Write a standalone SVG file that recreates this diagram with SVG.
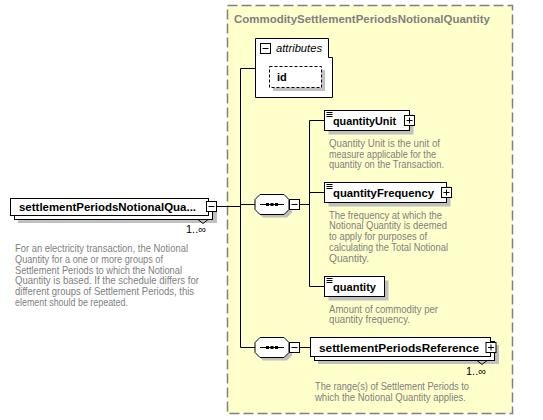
<svg xmlns="http://www.w3.org/2000/svg" width="543" height="420" viewBox="0 0 543 420">
<style>
text{font-family:"Liberation Sans",Arial,sans-serif}
.lbl{font-size:11px;font-weight:bold;fill:#000}
.desc{font-size:10.5px;fill:#808080}
.box{fill:#fff;stroke:#000;stroke-width:1}
.sh{fill:#c0c0c0}
.ln{stroke:#000;stroke-width:1;fill:none}
.btn{fill:#fff;stroke:#000;stroke-width:1}
.mult{font-size:10.5px;fill:#000}
</style>
<defs>
<g id="seq">
<polygon points="8,3 32,3 37,8 37,18 32,23 8,23 3,18 3,8" class="sh"/>
<polygon points="5,0 29,0 34,5 34,15 29,20 5,20 0,15 0,5" class="box"/>
<line x1="5" y1="10" x2="29" y2="10" class="ln"/>
<rect x="11" y="8.5" width="3" height="3" fill="#000"/>
<rect x="15.5" y="8.5" width="3" height="3" fill="#000"/>
<rect x="20" y="8.5" width="3" height="3" fill="#000"/>
</g>
<g id="minus"><rect x="0" y="0" width="10" height="10" class="btn"/><line x1="2" y1="5" x2="8" y2="5" class="ln"/></g>
<g id="plus"><rect x="0" y="0" width="10" height="10" class="btn"/><line x1="2" y1="5" x2="8" y2="5" class="ln"/><line x1="5" y1="2" x2="5" y2="8" class="ln"/></g>
<g id="doc"><line x1="0" y1="0" x2="6" y2="0" class="ln"/><line x1="0" y1="2" x2="6" y2="2" class="ln"/><line x1="0" y1="4" x2="6" y2="4" class="ln"/></g>
</defs>

<g id="complexType">
<rect x="227.5" y="5.5" width="285" height="408" fill="#ffffcc" stroke="#808080" stroke-width="1.5" stroke-dasharray="10,4"/>
<text x="234" y="23" class="lbl" style="fill:#808080" textLength="256" lengthAdjust="spacingAndGlyphs">CommoditySettlementPeriodsNotionalQuantity</text>
</g>

<g id="connectors">
<line x1="217" y1="206.5" x2="240.5" y2="206.5" class="ln"/>
<line x1="240.5" y1="68.5" x2="240.5" y2="347.5" class="ln"/>
<line x1="240.5" y1="68.5" x2="255.5" y2="68.5" class="ln"/>
<line x1="240.5" y1="204.5" x2="255" y2="204.5" class="ln"/>
<line x1="240.5" y1="347.5" x2="255" y2="347.5" class="ln"/>
<line x1="300" y1="204.5" x2="309.5" y2="204.5" class="ln"/>
<line x1="309.5" y1="120.5" x2="309.5" y2="286.5" class="ln"/>
<line x1="309.5" y1="120.5" x2="324.5" y2="120.5" class="ln"/>
<line x1="309.5" y1="192.5" x2="324.5" y2="192.5" class="ln"/>
<line x1="309.5" y1="286.5" x2="324.5" y2="286.5" class="ln"/>
<line x1="300" y1="347.5" x2="310.5" y2="347.5" class="ln"/>
</g>

<g id="settlementPeriodsNotionalQuantity">
<rect x="18" y="206" width="199" height="17" class="sh"/>
<rect x="14.5" y="202.5" width="198" height="17" class="box"/>
<rect x="10.5" y="198.5" width="198" height="17" class="box"/>
<polyline points="198,219.5 203,223.5 208,219.5" class="ln"/>
<text x="19" y="211" class="lbl" textLength="177" lengthAdjust="spacingAndGlyphs">settlementPeriodsNotionalQua...</text>
<use href="#minus" x="206.5" y="201.5"/>
<text x="186" y="233" class="mult" textLength="20" lengthAdjust="spacingAndGlyphs">1..∞</text>
<text class="desc">
<tspan x="15" y="252" textLength="173" lengthAdjust="spacingAndGlyphs">For an electricity transaction, the Notional</tspan>
<tspan x="15" y="262.8" textLength="148" lengthAdjust="spacingAndGlyphs">Quantity for a one or more groups of</tspan>
<tspan x="15" y="273.6" textLength="167" lengthAdjust="spacingAndGlyphs">Settlement Periods to which the Notional</tspan>
<tspan x="15" y="284.4" textLength="184" lengthAdjust="spacingAndGlyphs">Quantity is based. If the schedule differs for</tspan>
<tspan x="15" y="295.2" textLength="179" lengthAdjust="spacingAndGlyphs">different groups of Settlement Periods, this</tspan>
<tspan x="15" y="306" textLength="113" lengthAdjust="spacingAndGlyphs">element should be repeated.</tspan>
</text>
</g>

<g id="attributes">
<path d="M255.5,38.5 H328.5 V57.5 H332.5 V97.5 H255.5 Z" class="box"/>
<use href="#minus" x="260.5" y="43.5"/>
<text x="276" y="52" font-size="11" font-style="italic" fill="#000" textLength="46" lengthAdjust="spacingAndGlyphs">attributes</text>
</g>

<g id="id">
<rect x="273" y="70" width="52" height="21" class="sh"/>
<rect x="269.5" y="66.5" width="52" height="21" fill="#fff" stroke="#000" stroke-dasharray="3,2"/>
<text x="277" y="81" class="lbl">id</text>
</g>

<g id="sequence1">
<use href="#seq" x="255" y="194.5"/>
<use href="#minus" x="289.5" y="199.5"/>
</g>

<g id="quantityUnit">
<rect x="328.5" y="114.5" width="85" height="20" class="sh"/>
<rect x="324.5" y="110.5" width="85" height="20" class="box"/>
<use href="#doc" x="326.5" y="112.5"/>
<text x="333" y="124.5" class="lbl" textLength="63" lengthAdjust="spacingAndGlyphs">quantityUnit</text>
<use href="#plus" x="404.5" y="115.5"/>
<text class="desc">
<tspan x="329" y="147" textLength="111" lengthAdjust="spacingAndGlyphs">Quantity Unit is the unit of</tspan>
<tspan x="329" y="157.7" textLength="107" lengthAdjust="spacingAndGlyphs">measure applicable for the</tspan>
<tspan x="329" y="168.4" textLength="115" lengthAdjust="spacingAndGlyphs">quantity on the Transaction.</tspan>
</text>
</g>

<g id="quantityFrequency">
<rect x="328.5" y="186.5" width="122" height="20" class="sh"/>
<rect x="324.5" y="182.5" width="122" height="20" class="box"/>
<use href="#doc" x="326.5" y="184.5"/>
<text x="333" y="196.5" class="lbl" textLength="101" lengthAdjust="spacingAndGlyphs">quantityFrequency</text>
<use href="#plus" x="441.5" y="187.5"/>
<text class="desc">
<tspan x="329" y="218.7" textLength="113" lengthAdjust="spacingAndGlyphs">The frequency at which the</tspan>
<tspan x="329" y="229.4" textLength="118" lengthAdjust="spacingAndGlyphs">Notional Quantity is deemed</tspan>
<tspan x="329" y="240.1" textLength="98" lengthAdjust="spacingAndGlyphs">to apply for purposes of</tspan>
<tspan x="329" y="250.8" textLength="119" lengthAdjust="spacingAndGlyphs">calculating the Total Notional</tspan>
<tspan x="329" y="261.5" textLength="40" lengthAdjust="spacingAndGlyphs">Quantity.</tspan>
</text>
</g>

<g id="quantity">
<rect x="328.5" y="280.5" width="60" height="20" class="sh"/>
<rect x="324.5" y="276.5" width="60" height="20" class="box"/>
<use href="#doc" x="326.5" y="278.5"/>
<text x="333" y="290.5" class="lbl" textLength="43" lengthAdjust="spacingAndGlyphs">quantity</text>
<text class="desc">
<tspan x="329" y="312.5" textLength="109" lengthAdjust="spacingAndGlyphs">Amount of commodity per</tspan>
<tspan x="329" y="323.2" textLength="81" lengthAdjust="spacingAndGlyphs">quantity frequency.</tspan>
</text>
</g>

<g id="sequence2">
<use href="#seq" x="255" y="337.5"/>
<use href="#minus" x="289.5" y="342.5"/>
</g>

<g id="settlementPeriodsReference">
<rect x="318" y="345" width="181" height="19" class="sh"/>
<rect x="314.5" y="341.5" width="180" height="19" class="box"/>
<rect x="310.5" y="337.5" width="180" height="19" class="box"/>
<polyline points="477,360.5 482,364.5 487,360.5" class="ln"/>
<text x="319" y="351.5" class="lbl" textLength="160" lengthAdjust="spacingAndGlyphs">settlementPeriodsReference</text>
<use href="#plus" x="486" y="342.5"/>
<text x="466" y="375" class="mult" textLength="20" lengthAdjust="spacingAndGlyphs">1..∞</text>
<text class="desc">
<tspan x="315" y="390.3" textLength="154" lengthAdjust="spacingAndGlyphs">The range(s) of Settlement Periods to</tspan>
<tspan x="315" y="401" textLength="151" lengthAdjust="spacingAndGlyphs">which the Notional Quantity applies.</tspan>
</text>
</g>
</svg>
